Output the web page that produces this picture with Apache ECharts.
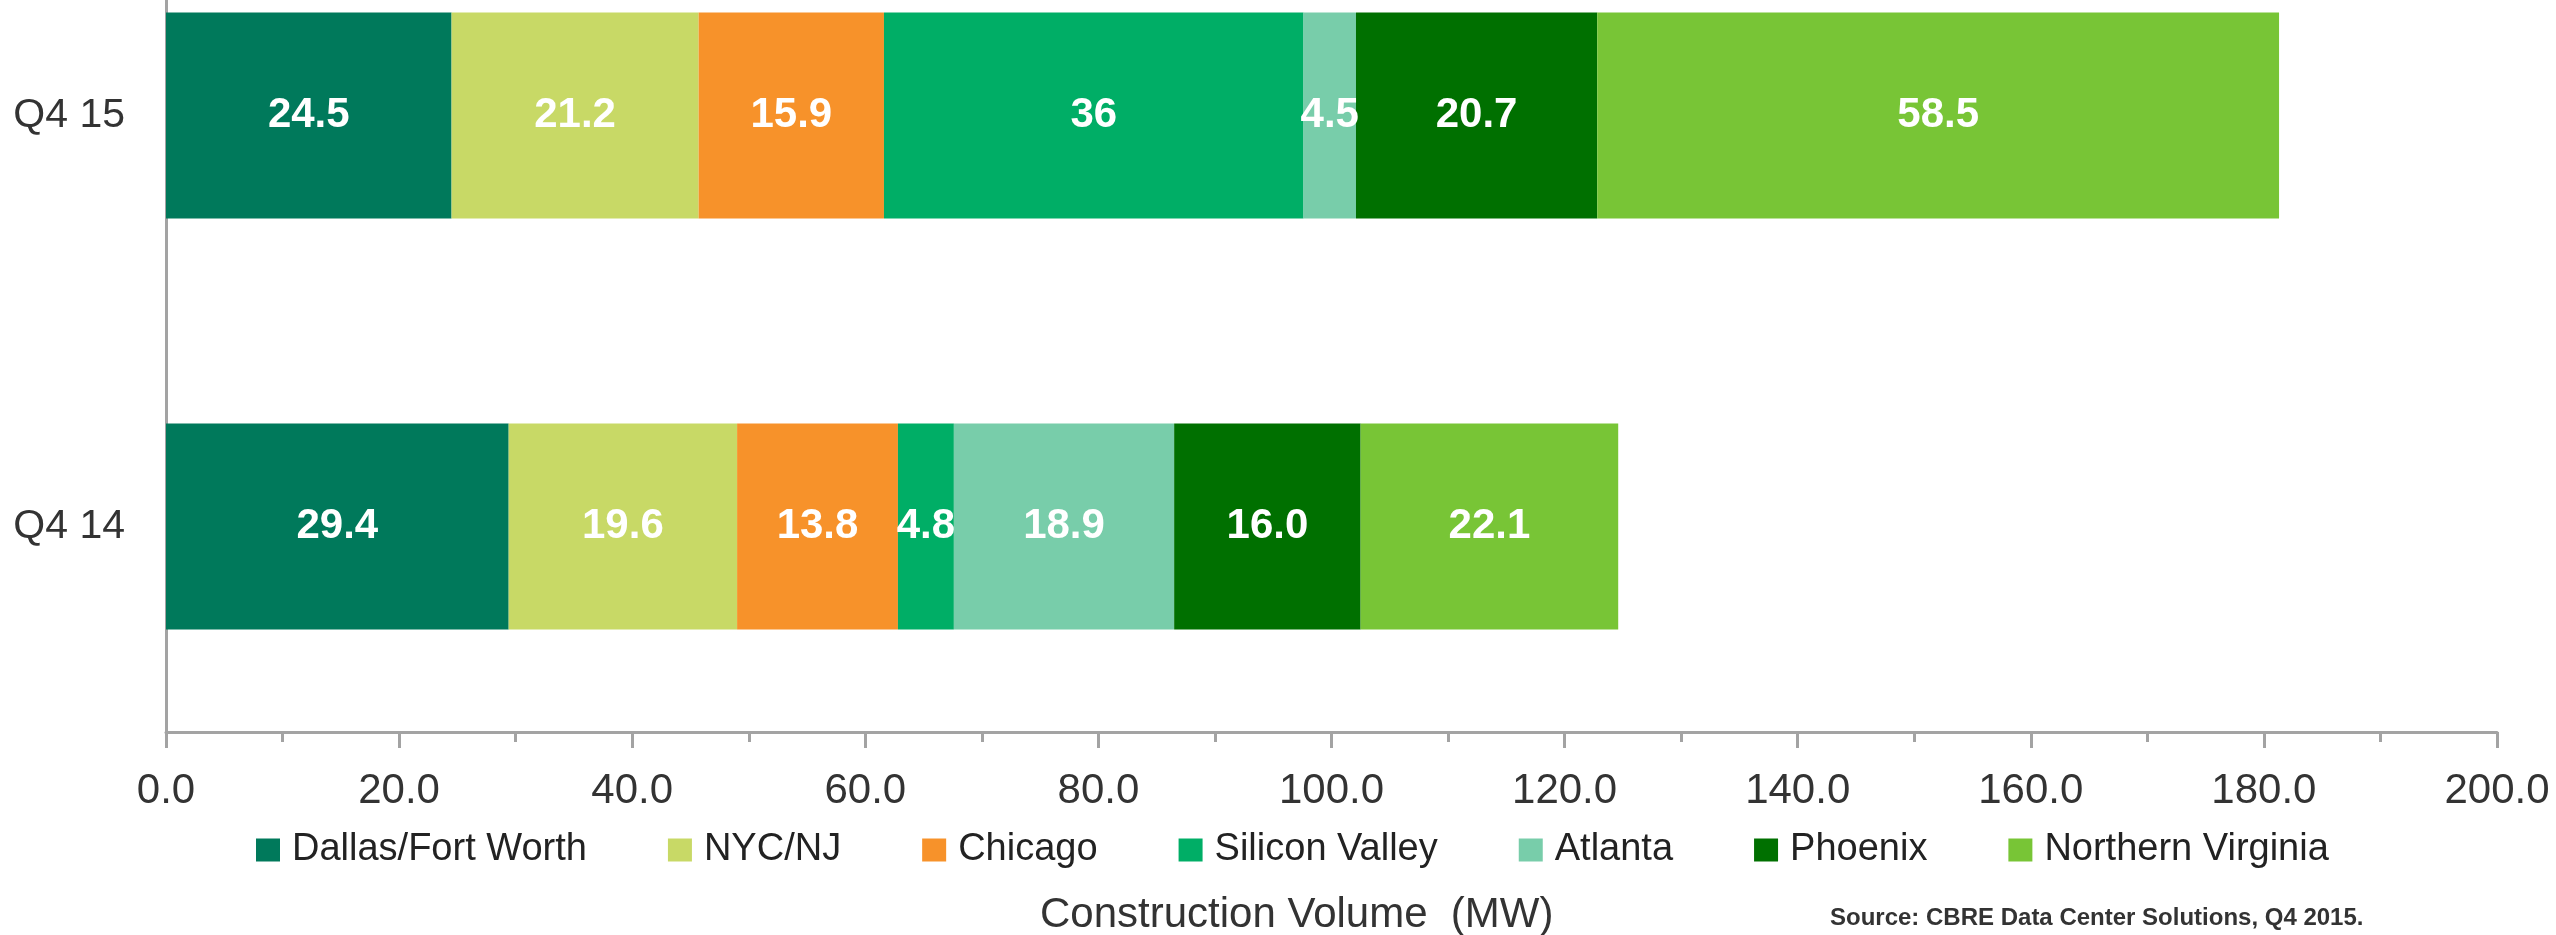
<!DOCTYPE html>
<html>
<head>
<meta charset="utf-8">
<script src="https://cdn.jsdelivr.net/npm/echarts@6/dist/echarts.min.js"></script>
<style>
html,body{margin:0;padding:0;background:#fff;}
#chart{width:2556px;height:935px;}
</style>
</head>
<body>
<div id="chart"></div>
<script>
// Categories (bottom to top)
const categories = ['Q4 14', 'Q4 15'];
const seriesNames = ['Dallas/Fort Worth', 'NYC/NJ', 'Chicago', 'Silicon Valley', 'Atlanta', 'Phoenix', 'Northern Virginia'];
const dallas = [29.4, 24.5];
const nycnj = [19.6, 21.2];
const chicago = [13.8, 15.9];
const siliconValley = [4.8, 36];
const atlanta = [18.9, 4.5];
const phoenix = [16.0, 20.7];
const northernVirginia = [22.1, 58.5];
// value labels as printed
const labelsQ414 = ['29.4', '19.6', '13.8', '4.8', '18.9', '16.0', '22.1'];
const labelsQ415 = ['24.5', '21.2', '15.9', '36', '4.5', '20.7', '58.5'];
const colors = ['#00795B', '#C8D966', '#F7922A', '#00AE66', '#78CDAA', '#007000', '#78C536'];
const xMin = 0, xMax = 200, xInterval = 20;

const values = [dallas, nycnj, chicago, siliconValley, atlanta, phoenix, northernVirginia];
const printed = [labelsQ414, labelsQ415];

const chart = echarts.init(document.getElementById('chart'), null, {renderer: 'canvas'});
const FONT = '"Liberation Sans", Arial, sans-serif';

const series = seriesNames.map((name, i) => ({
  name: name,
  type: 'bar',
  stack: 'total',
  barWidth: 206,
  itemStyle: {color: colors[i]},
  data: values[i],
  label: {
    show: true,
    position: 'inside',
    color: '#ffffff',
    fontFamily: FONT,
    fontWeight: 'bold',
    fontSize: 42,
    formatter: p => printed[p.dataIndex][i]
  },
  emphasis: {disabled: true}
}));

chart.setOption({
  animation: false,
  backgroundColor: '#ffffff',
  textStyle: {fontFamily: FONT},
  grid: {left: 166, right: 59, top: -90, height: 822, containLabel: false, outerBoundsMode: 'none'},
  xAxis: {
    type: 'value',
    min: xMin, max: xMax, interval: xInterval,
    axisLine: {show: true, lineStyle: {color: '#a3a3a3', width: 3}},
    axisTick: {show: true, length: 16, lineStyle: {color: '#a3a3a3', width: 3}},
    minorTick: {show: true, splitNumber: 2, length: 10, lineStyle: {color: '#a3a3a3', width: 3}},
    splitLine: {show: false},
    axisLabel: {
      margin: 38,
      fontSize: 42,
      color: '#333333',
      fontFamily: FONT,
      formatter: v => v.toFixed(1)
    }
  },
  yAxis: {
    type: 'category',
    data: categories,
    axisLine: {show: true, lineStyle: {color: '#a3a3a3', width: 3}},
    axisTick: {show: false},
    axisLabel: {margin: 41, fontSize: 41, color: '#333333', fontFamily: FONT}
  },
  legend: {
    data: seriesNames,
    left: 256,
    top: 831,
    padding: 0,
    itemWidth: 24,
    itemHeight: 23,
    itemGap: 81,
    icon: 'rect',
    textStyle: {fontSize: 38, color: '#222222', fontFamily: FONT, padding: [0, 0, 0, 7]}
  },
  title: [
    {
      text: 'Construction Volume  (MW)',
      left: 1040, top: 894, padding: 0,
      textStyle: {fontSize: 42, fontWeight: 'normal', color: '#333333', fontFamily: FONT}
    },
    {
      text: 'Source: CBRE Data Center Solutions, Q4 2015.',
      left: 1830, top: 906, padding: 0,
      textStyle: {fontSize: 24, fontWeight: 'bold', color: '#333333', fontFamily: FONT}
    }
  ],
  series: series
});
</script>
</body>
</html>
